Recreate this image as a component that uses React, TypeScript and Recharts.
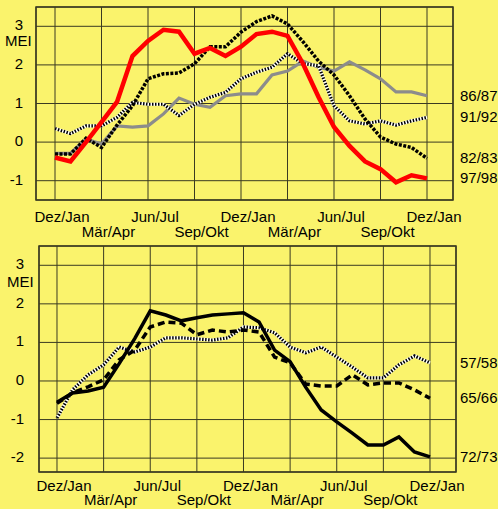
import React from 'react';
import { LineChart, Line, XAxis, YAxis, CartesianGrid, ReferenceArea } from 'recharts';

const FONT = '"Liberation Sans", Arial, Helvetica, sans-serif';
const BG = '#FAF36C';
const GRID = '#3a3a22';

// x positions (bimonthly seasons, Dez/Jan of year 0 .. Dez/Jan of year 2)
const seasonIndex = Array.from({ length: 25 }, (_, i) => i);
const tickPos = [0, 3, 6, 9, 12, 15, 18, 21, 24];
const tickLabels = ['Dez/Jan', 'Mär/Apr', 'Jun/Jul', 'Sep/Okt', 'Dez/Jan', 'Mär/Apr', 'Jun/Jul', 'Sep/Okt', 'Dez/Jan'];
const yTicksTop = [-1, 0, 1, 2, 3];
const yTicksBottom = [-2, -1, 0, 1, 2, 3];

// Top panel series
const s9798 = [-0.4, -0.5, 0.0, 0.52, 1.04, 2.23, 2.62, 2.91, 2.86, 2.29, 2.44, 2.23, 2.47, 2.8, 2.86, 2.75, 2.03, 1.17, 0.39, -0.1, -0.5, -0.7, -1.04, -0.86, -0.94];
const s8283 = [-0.31, -0.31, 0.1, -0.14, 0.44, 0.94, 1.64, 1.77, 1.79, 2.03, 2.47, 2.47, 2.85, 3.12, 3.27, 3.06, 2.6, 2.1, 1.74, 1.2, 0.6, 0.13, -0.05, -0.14, -0.42];
const s9192 = [0.35, 0.22, 0.42, 0.42, 0.64, 1.03, 0.98, 0.98, 0.69, 0.98, 1.16, 1.29, 1.64, 1.81, 1.94, 2.29, 2.03, 1.98, 0.94, 0.55, 0.47, 0.55, 0.44, 0.55, 0.64];
const s8687 = [-0.29, -0.29, 0.08, -0.05, 0.42, 0.39, 0.42, 0.73, 1.14, 0.98, 0.9, 1.2, 1.25, 1.25, 1.74, 1.84, 2.1, 1.94, 1.84, 2.08, 1.87, 1.64, 1.3, 1.3, 1.2];

// Bottom panel series
const s7273 = [-0.55, -0.31, -0.26, -0.16, 0.45, 1.1, 1.82, 1.71, 1.56, 1.64, 1.71, 1.74, 1.77, 1.53, 0.8, 0.5, -0.16, -0.75, -1.06, -1.35, -1.66, -1.66, -1.45, -1.84, -1.97];
const s6566 = [-0.58, -0.31, -0.15, 0.03, 0.55, 0.8, 1.4, 1.53, 1.5, 1.2, 1.32, 1.27, 1.32, 1.27, 0.62, 0.47, -0.08, -0.13, -0.13, 0.16, -0.1, -0.05, -0.05, -0.23, -0.45];
const s5758 = [-0.96, -0.23, 0.16, 0.42, 0.88, 0.75, 0.88, 1.12, 1.12, 1.09, 1.06, 1.12, 1.4, 1.38, 1.25, 0.88, 0.73, 0.88, 0.62, 0.36, 0.08, 0.08, 0.42, 0.65, 0.47];

const topData = seasonIndex.map((i) => ({ i, a: s9798[i], b: s8283[i], c: s9192[i], d: s8687[i] }));
const bottomData = seasonIndex.map((i) => ({ i, a: s7273[i], b: s6566[i], c: s5758[i] }));

const makeXTick = (r1: number, r2: number) => (props: any) => {
  const { x, y, payload } = props;
  const k = Math.round(payload.value / 3);
  const row = k % 2;
  return (
    <text x={x + 7} y={y + (row ? r2 : r1)} textAnchor="middle" fontFamily={FONT} fontSize={15} fill="#000">
      {tickLabels[k]}
    </text>
  );
};

const makeYTick = (rightX: number, meiX: number, meiDy: number) => (props: any) => {
  const { y, payload } = props;
  return (
    <g>
      <text x={rightX} y={y + 4} textAnchor="end" fontFamily={FONT} fontSize={15} fill="#000">
        {payload.value}
      </text>
      {payload.value === 3 ? (
        <text x={meiX} y={y + meiDy} textAnchor="start" fontFamily={FONT} fontSize={15} fill="#000">
          MEI
        </text>
      ) : null}
    </g>
  );
};

const endLabel = (text: string, dx: number) => (props: any) => {
  const { x, y, index } = props;
  if (index !== 24) return <g />;
  return (
    <text x={x + dx} y={y + 5} textAnchor="start" fontFamily={FONT} fontSize={15} fill="#000">
      {text}
    </text>
  );
};

const TOP_X: [number, number] = [-1.226, 25.677];
const TOP_Y: [number, number] = [-1.5, 3.5];
const BOT_X: [number, number] = [-1.158, 25.673];
const BOT_Y: [number, number] = [-2.36, 3.5];

export default function App() {
  return (
    <div style={{ position: 'absolute', left: 0, top: 0, width: 498, height: 509, background: BG, overflow: 'hidden' }}>
      <div style={{ position: 'absolute', left: 0, top: 0 }}>
        <LineChart width={498} height={244} data={topData} margin={{ top: 7, right: 45, left: 0, bottom: 2 }}>
          <CartesianGrid stroke={GRID} strokeWidth={1} />
          <XAxis dataKey="i" type="number" domain={TOP_X} allowDataOverflow ticks={tickPos} interval={0}
            tickLine={false} axisLine={false} height={42} tick={makeXTick(22, 37)} tickSize={0} tickMargin={0} />
          <YAxis type="number" domain={TOP_Y} allowDataOverflow ticks={yTicksTop} interval={0}
            tickLine={false} axisLine={false} width={36} tick={makeYTick(23, 5, 20)} tickSize={0} tickMargin={0} />
          <ReferenceArea x1={TOP_X[0]} x2={TOP_X[1]} y1={TOP_Y[0]} y2={TOP_Y[1]} fill="none" stroke={GRID} strokeWidth={1.5} ifOverflow="visible" />
          <Line dataKey="d" type="linear" stroke="#8c8c8c" strokeWidth={3.2} dot={false} isAnimationActive={false} label={endLabel('86/87', 33)} />
          <Line dataKey="c" type="linear" stroke="#ffffff" strokeWidth={3.2} dot={false} isAnimationActive={false} label={endLabel('91/92', 33)} />
          <Line dataKey="c" type="linear" stroke="#000000" strokeWidth={3.2} strokeDasharray="1.5 1.5" dot={false} isAnimationActive={false} />
          <Line dataKey="b" type="linear" stroke="#000000" strokeWidth={3.5} strokeDasharray="3 1.5" dot={false} isAnimationActive={false} label={endLabel('82/83', 33)} />
          <Line dataKey="a" type="linear" stroke="#ff0000" strokeWidth={4.5} dot={false} isAnimationActive={false} label={endLabel('97/98', 33)} />
        </LineChart>
      </div>
      <div style={{ position: 'absolute', left: 0, top: 244 }}>
        <LineChart width={498} height={265} data={bottomData} margin={{ top: 2, right: 42, left: 0, bottom: 2 }}>
          <CartesianGrid stroke={GRID} strokeWidth={1} />
          <XAxis dataKey="i" type="number" domain={BOT_X} allowDataOverflow ticks={tickPos} interval={0}
            tickLine={false} axisLine={false} height={35} tick={makeXTick(19, 33)} tickSize={0} tickMargin={0} />
          <YAxis type="number" domain={BOT_Y} allowDataOverflow ticks={yTicksBottom} interval={0}
            tickLine={false} axisLine={false} width={39} tick={makeYTick(24, 7, 22)} tickSize={0} tickMargin={0} />
          <ReferenceArea x1={BOT_X[0]} x2={BOT_X[1]} y1={BOT_Y[0]} y2={BOT_Y[1]} fill="none" stroke={GRID} strokeWidth={1.5} ifOverflow="visible" />
          <Line dataKey="c" type="linear" stroke="#ffffff" strokeWidth={3.2} dot={false} isAnimationActive={false} label={endLabel('57/58', 30)} />
          <Line dataKey="c" type="linear" stroke="#000000" strokeWidth={3.2} strokeDasharray="1.5 1.5" dot={false} isAnimationActive={false} />
          <Line dataKey="b" type="linear" stroke="#000000" strokeWidth={3.5} strokeDasharray="7 4" dot={false} isAnimationActive={false} label={endLabel('65/66', 30)} />
          <Line dataKey="a" type="linear" stroke="#000000" strokeWidth={3.5} dot={false} isAnimationActive={false} label={endLabel('72/73', 30)} />
        </LineChart>
      </div>
    </div>
  );
}
